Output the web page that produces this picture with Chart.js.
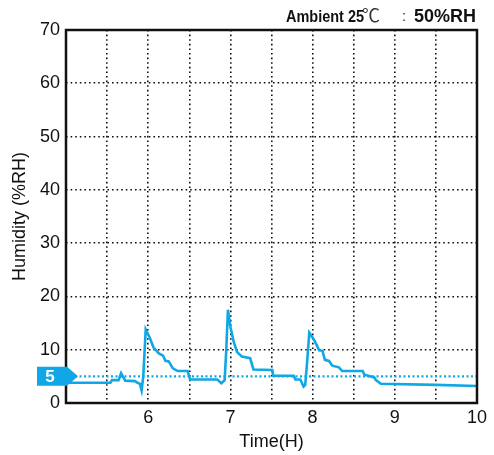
<!DOCTYPE html>
<html>
<head>
<meta charset="utf-8">
<script src="https://cdn.jsdelivr.net/npm/chart.js@4/dist/chart.umd.min.js"></script>
<style>
  body { margin: 0; background: #fff; }
  #wrap { width: 494px; height: 455px; }
</style>
</head>
<body>
<div id="wrap"><canvas id="humidityChart" width="494" height="455"></canvas></div>
<script>
// === Data ===
const times = [5.0, 5.54, 5.56, 5.64, 5.67, 5.72, 5.84, 5.87, 5.9, 5.92, 5.94, 5.97,
  6.02, 6.065, 6.13, 6.18, 6.21, 6.25, 6.3, 6.36, 6.48, 6.51, 6.84, 6.89, 6.93, 6.95, 6.97,
  7.0, 7.04, 7.08, 7.14, 7.24, 7.28, 7.51, 7.52, 7.77, 7.79, 7.85, 7.89, 7.91, 7.93, 7.96,
  8.02, 8.08, 8.12, 8.15, 8.2, 8.24, 8.32, 8.36, 8.61, 8.63, 8.75, 8.77, 8.83, 9.5, 10];
const humidity = [3.8, 3.8, 4.3, 4.3, 5.6, 4.2, 4.1, 3.8, 3.6, 2.4, 5.0, 13.8,
  12.2, 10.4, 9.3, 8.9, 7.9, 7.8, 6.5, 6.0, 6.0, 4.4, 4.4, 3.7, 4.3, 10.0, 17.5,
  14.3, 11.5, 9.6, 8.7, 8.4, 6.3, 6.2, 5.1, 5.1, 4.4, 4.4, 3.1, 3.4, 7.0, 13.2,
  11.8, 9.9, 9.8, 8.1, 7.9, 7.0, 6.7, 6.0, 6.0, 5.3, 4.8, 4.3, 3.6, 3.4, 3.2];
const thresholdValue = 5;
const xTickLabels = [6, 7, 8, 9, 10];
const yTickLabels = [0, 10, 20, 30, 40, 50, 60, 70];

const BLUE = "#0fa7e5";
const FONT = "'Liberation Sans', Arial, sans-serif";

// frame + threshold tag + title
const extrasPlugin = {
  id: "extras",
  afterDatasetsDraw(chart) {
    const { ctx, chartArea: a, scales } = chart;
    ctx.save();
    ctx.strokeStyle = "#111";
    ctx.lineWidth = 2.5;
    ctx.strokeRect(a.left, a.top, a.right - a.left, a.bottom - a.top);

    // "5" tag on the left
    const y = scales.y.getPixelForValue(thresholdValue);
    const x0 = a.left - 29, x1 = a.left + 1, tip = a.left + 12, h = 9.5;
    ctx.fillStyle = BLUE;
    ctx.beginPath();
    ctx.moveTo(x0, y - h);
    ctx.lineTo(x1, y - h);
    ctx.lineTo(tip, y);
    ctx.lineTo(x1, y + h);
    ctx.lineTo(x0, y + h);
    ctx.closePath();
    ctx.fill();
    ctx.fillStyle = "#fff";
    ctx.font = "bold 17px " + FONT;
    ctx.textAlign = "center";
    ctx.textBaseline = "middle";
    ctx.fillText(String(thresholdValue), x0 + 13, y + 1);

    // title pieces, right aligned
    ctx.textBaseline = "alphabetic";
    ctx.fillStyle = "#111";
    ctx.textAlign = "right";
    ctx.font = "bold 18px " + FONT;
    ctx.fillText("50%RH", 476, 22);
    ctx.font = "bold 17px " + FONT;
    ctx.fillText("Ambient 25", 364, 22, 78);
    ctx.fillStyle = "#333";
    ctx.font = "18px 'Noto Sans CJK SC', sans-serif";
    ctx.textAlign = "left";
    ctx.fillText("\u2103", 362, 22);
    ctx.textAlign = "center";
    ctx.font = "15px " + FONT;
    ctx.fillText(":", 404, 21);
    ctx.restore();
  }
};

const ctx = document.getElementById("humidityChart").getContext("2d");
new Chart(ctx, {
  type: "line",
  data: {
    datasets: [
      {
        label: "Humidity",
        data: times.map((t, i) => ({ x: t, y: humidity[i] })),
        borderColor: BLUE,
        borderWidth: 2.6,
        pointRadius: 0,
        tension: 0,
        fill: false
      },
      {
        label: "Threshold",
        data: [{ x: 5, y: thresholdValue }, { x: 10, y: thresholdValue }],
        borderColor: BLUE,
        borderWidth: 2.2,
        borderDash: [2, 2.5],
        pointRadius: 0,
        fill: false
      }
    ]
  },
  options: {
    responsive: false,
    animation: false,
    devicePixelRatio: 1,
    layout: { padding: { left: 0, top: 30, right: 17, bottom: 0 } },
    plugins: { legend: { display: false }, tooltip: { enabled: false } },
    scales: {
      x: {
        type: "linear",
        min: 5,
        max: 10,
        afterBuildTicks: (scale) => {
          const t = [];
          for (let v = 5; v <= 10.001; v += 0.5) t.push({ value: v });
          scale.ticks = t;
        },
        ticks: {
          color: "#111",
          font: { family: FONT, size: 18 },
          padding: 4,
          maxRotation: 0,
          autoSkip: false,
          callback: (v) => xTickLabels.includes(v) ? String(v) : ""
        },
        grid: { color: "#111", lineWidth: 1.6, drawTicks: false },
        border: { display: false, dash: [1.6, 3] },
        title: {
          display: true,
          text: "Time(H)",
          color: "#111",
          font: { family: FONT, size: 18 },
          padding: { top: 2, bottom: 2 }
        },
        afterFit: (scale) => { scale.height = 52; }
      },
      y: {
        min: 0,
        max: 70,
        afterBuildTicks: (scale) => {
          scale.ticks = yTickLabels.map(v => ({ value: v }));
        },
        ticks: {
          color: "#111",
          font: { family: FONT, size: 18 },
          padding: 6
        },
        grid: { color: "#111", lineWidth: 1.6, drawTicks: false },
        border: { display: false, dash: [1.6, 3] },
        title: {
          display: true,
          text: "Humidity (%RH)",
          color: "#111",
          font: { family: FONT, size: 18 },
          padding: { top: 9, bottom: 4 }
        },
        afterFit: (scale) => { scale.width = 66; }
      }
    }
  },
  plugins: [extrasPlugin]
});
</script>
</body>
</html>
